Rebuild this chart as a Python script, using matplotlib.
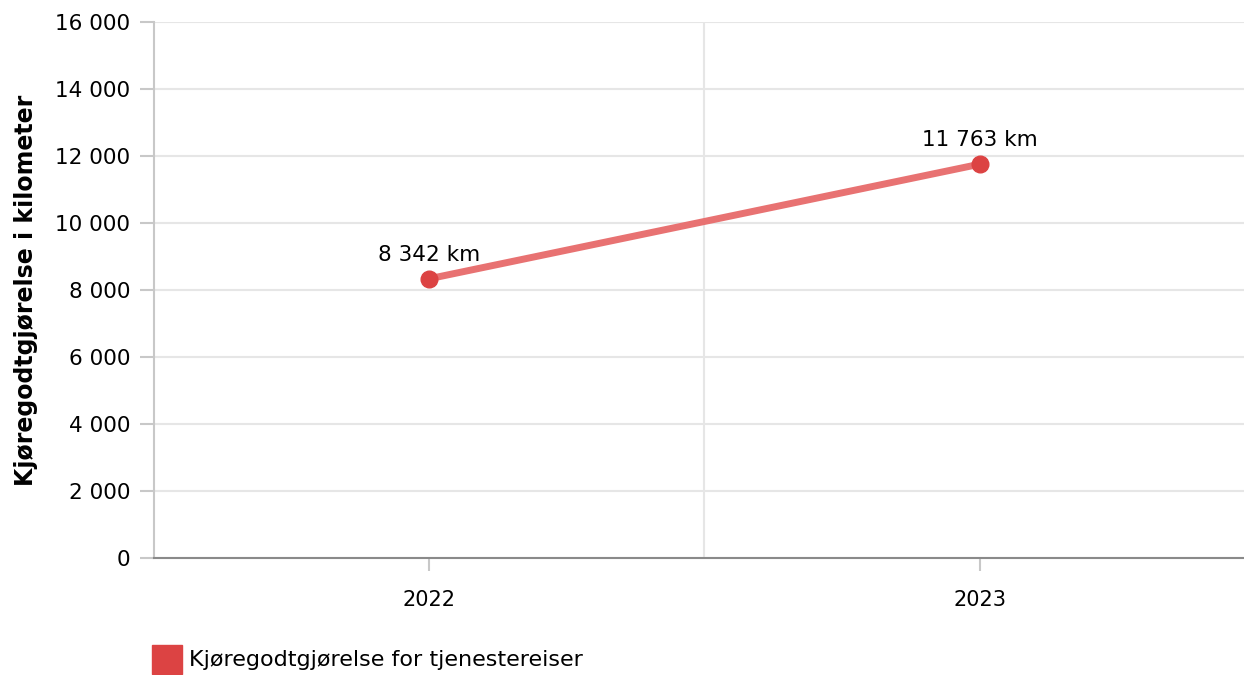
import matplotlib
matplotlib.use("Agg")
import matplotlib.pyplot as plt
from matplotlib.patches import Patch
from matplotlib.ticker import FuncFormatter, MultipleLocator

categories = ["2022", "2023"]
values = [8342, 11763]
series_name = "Kjøregodtgjørelse for tjenestereiser"
y_label = "Kjøregodtgjørelse i kilometer"

plt.rcParams['font.family'] = ['DejaVu Sans']

fig = plt.figure(figsize=(12.44, 6.75), dpi=100)
ax = fig.add_axes([0.1235, 0.173, 0.8765, 0.794])

x = list(range(len(categories)))
ax.plot(x, values, color="#e87272", lw=5, solid_capstyle="butt", zorder=3)
ax.plot(x, values, "o", color="#dc4343", markersize=12, zorder=4)
for xi, v in zip(x, values):
    ax.annotate(f"{v:,}".replace(",", " ") + " km", (xi, v), xytext=(0, 10),
                textcoords="offset points", ha="center", va="bottom", fontsize=15.5)

ax.set_xlim(-0.5, 1.48)
ax.set_ylim(0, 16000)
ax.yaxis.set_major_locator(MultipleLocator(2000))
ax.yaxis.set_major_formatter(FuncFormatter(lambda v, p: f"{int(v):,}".replace(",", " ")))
ax.set_xticks(x)
ax.set_xticklabels(categories)
ax.set_xticks([0.5], minor=True)

ax.grid(axis="y", color="#e6e6e6", lw=1.5)
ax.grid(axis="x", which="minor", color="#e6e6e6", lw=1.5)
ax.set_axisbelow(True)

for s in ["top", "right"]:
    ax.spines[s].set_visible(False)
ax.spines["left"].set_color("#c8c8c8")
ax.spines["left"].set_linewidth(1.5)
ax.spines["bottom"].set_color("#8a8a8a")
ax.spines["bottom"].set_linewidth(1.5)

ax.tick_params(axis="y", length=10, width=1.5, color="#c8c8c8", labelsize=15.5, pad=7)
ax.tick_params(axis="x", which="major", length=9, width=1.5, color="#c8c8c8", labelsize=15, pad=14)
ax.tick_params(axis="x", which="minor", length=0)

ax.set_ylabel(y_label, fontsize=17, fontweight="bold", labelpad=12)

fig.legend(handles=[Patch(color="#dc4343", label=series_name)], loc="lower left",
           bbox_to_anchor=(0.121, 0.0), frameon=False, fontsize=16,
           borderpad=0, borderaxespad=0.05,
           handlelength=1.35, handleheight=1.65, handletextpad=0.35)

fig.savefig("out.png", dpi=100)
